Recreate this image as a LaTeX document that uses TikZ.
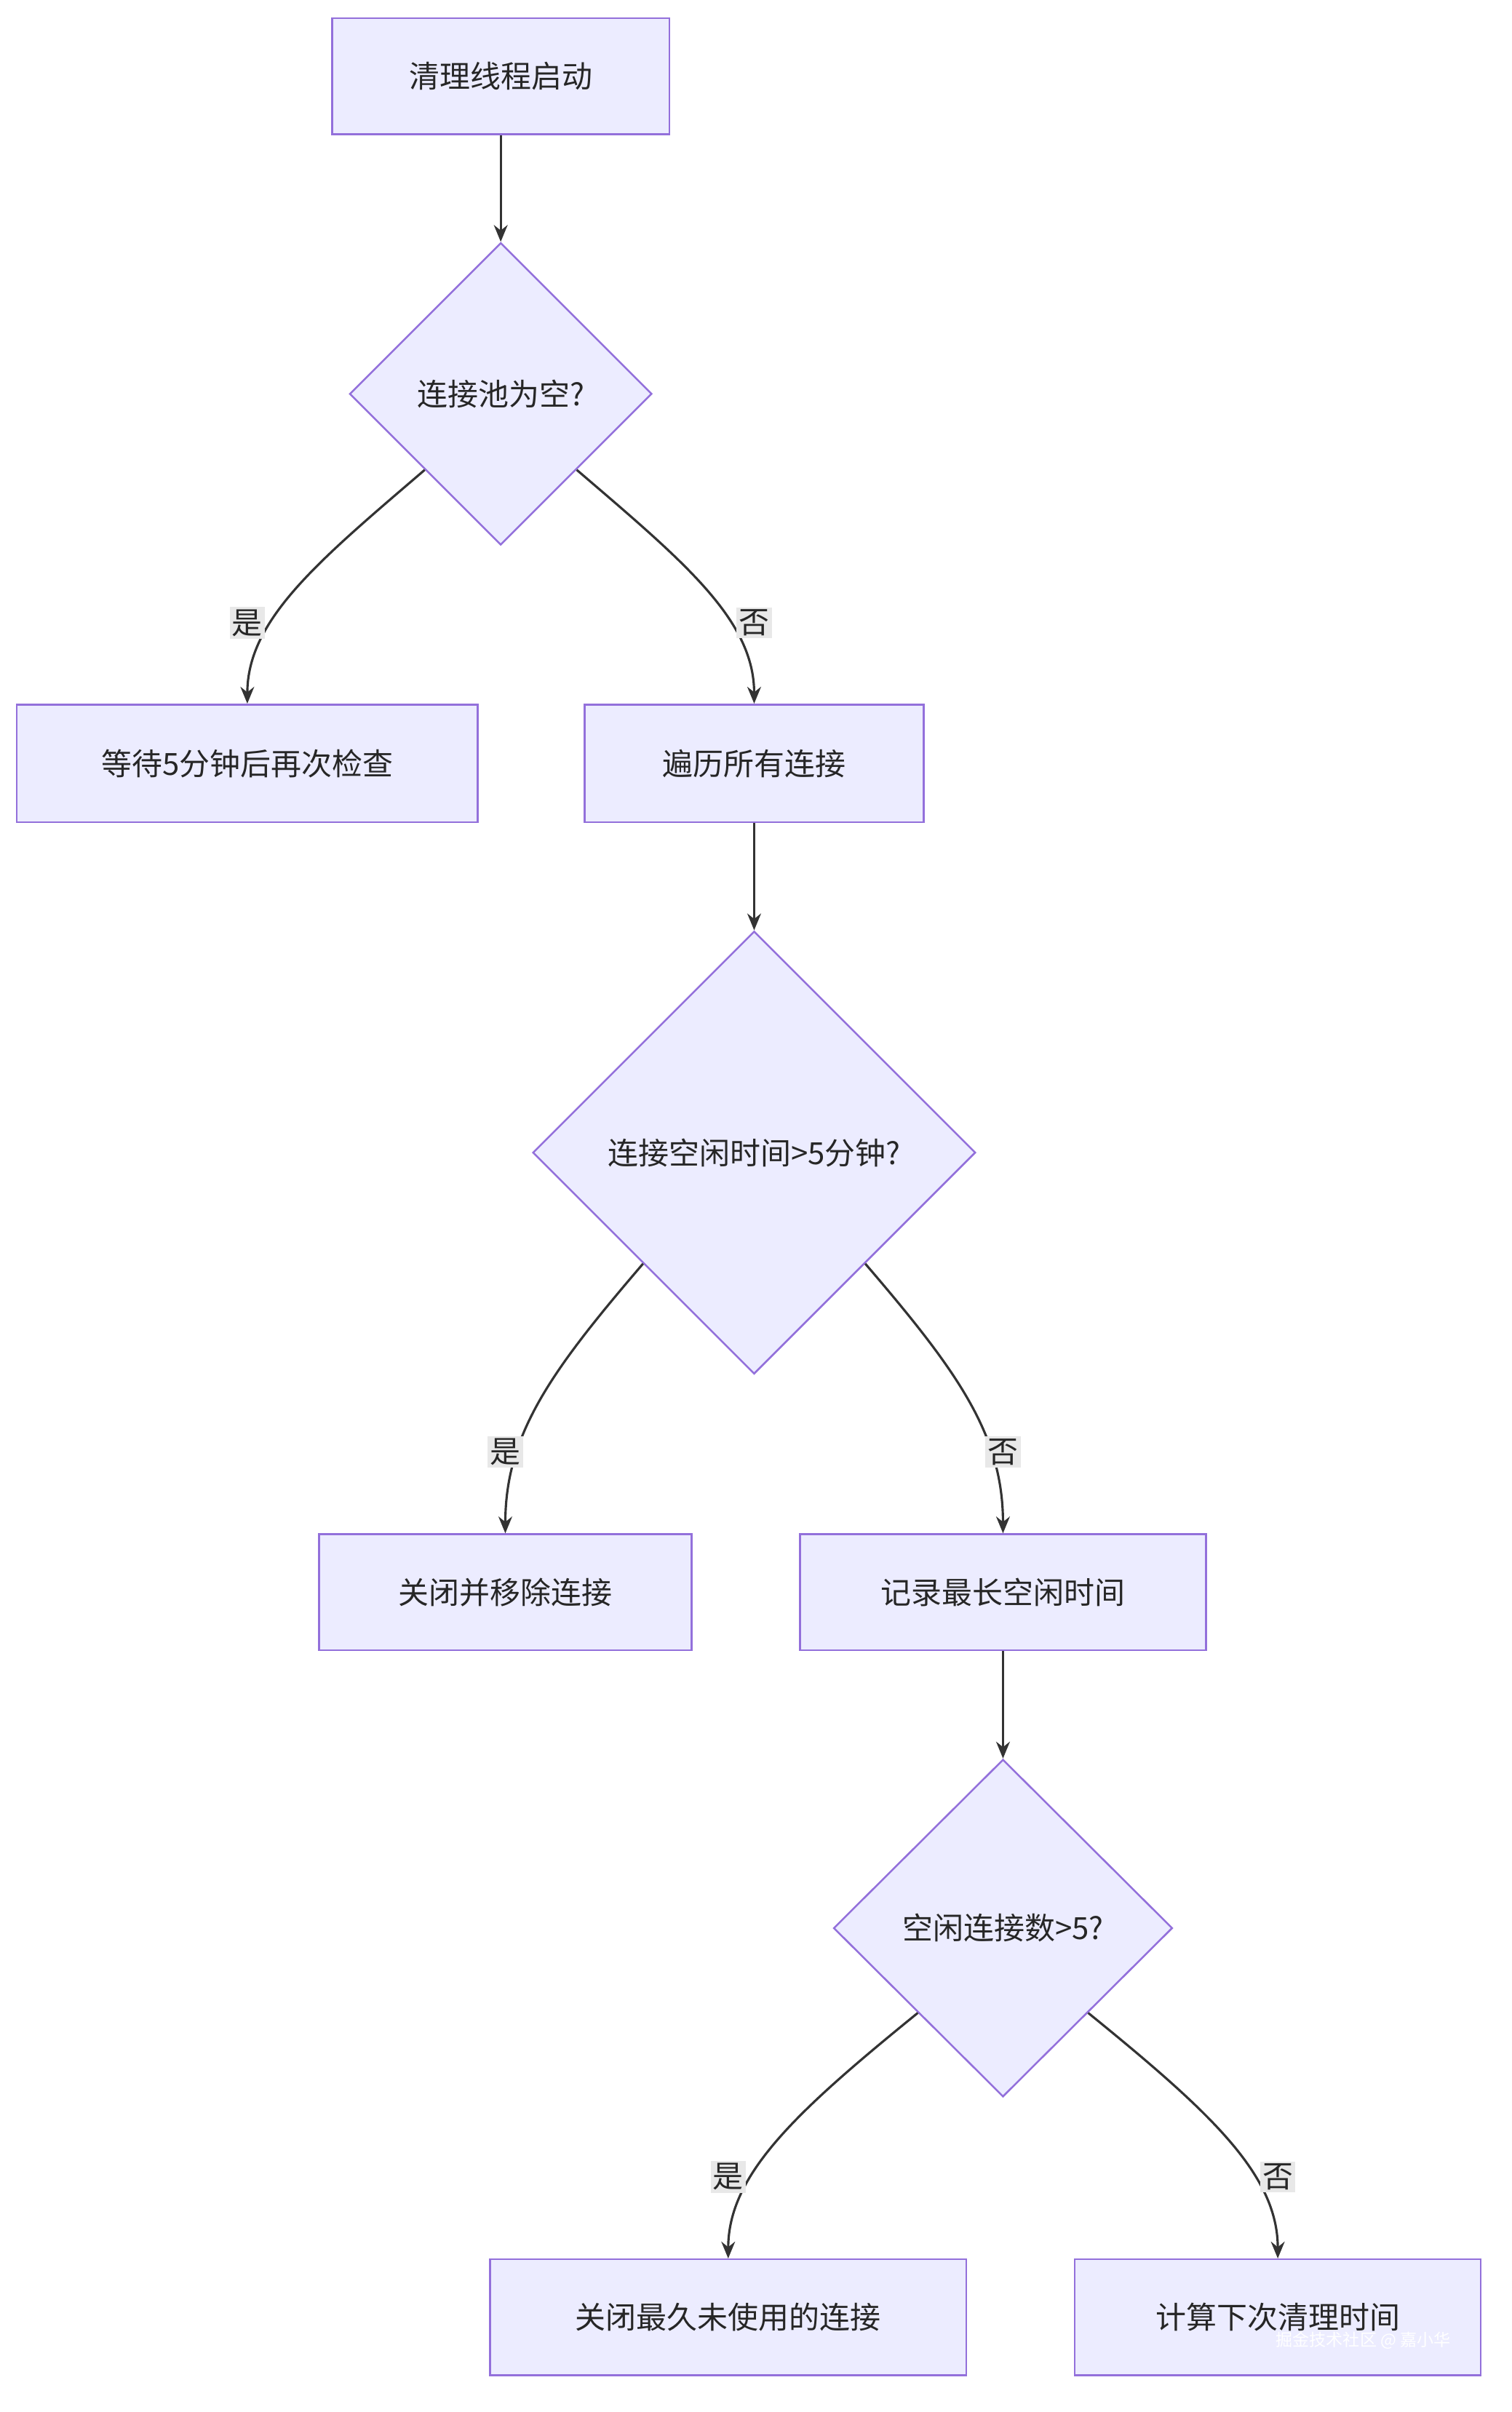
\documentclass[tikz,border=0pt]{standalone}
\usepackage{fontspec}
\setmainfont{Noto Sans CJK SC}
\usetikzlibrary{shapes.geometric,arrows.meta}
\definecolor{nfill}{HTML}{ECECFF}
\definecolor{nline}{HTML}{9370DB}
\definecolor{earr}{HTML}{333333}
\definecolor{lbg}{HTML}{E8E8E8}
\begin{document}
\begin{tikzpicture}[x=1pt,y=-1pt,
  box/.style={draw=nline,fill=nfill,line width=1.2pt,font=\fontsize{20}{24}\selectfont,text=black!85},
  dia/.style={diamond,draw=nline,fill=nfill,line width=1.2pt,inner sep=0pt,font=\fontsize{20}{24}\selectfont,text=black!85},
  arr/.style={draw=earr,line width=1.5pt,-{Stealth[length=11pt,width=9pt]}},
  lab/.style={fill=lbg,inner sep=1.5pt,font=\fontsize{20}{24}\selectfont,text=black!85}]
\useasboundingbox[fill=white] (0,0) rectangle (990,1580);
\node[box,minimum width=221pt,minimum height=76pt] (start) at (328,50) {清理线程启动};
\node[dia,minimum width=198pt,minimum height=198pt] (d1) at (328,258) {连接池为空?};
\node[box,minimum width=302pt,minimum height=77pt] (wait) at (162,500) {等待5分钟后再次检查};
\node[box,minimum width=222pt,minimum height=77pt] (iter) at (494,500) {遍历所有连接};
\node[dia,minimum width=290pt,minimum height=290pt] (d2) at (494,755) {连接空闲时间>5分钟?};
\node[box,minimum width=244pt,minimum height=76pt] (close) at (331,1043) {关闭并移除连接};
\node[box,minimum width=266pt,minimum height=76pt] (record) at (657,1043) {记录最长空闲时间};
\node[dia,minimum width=222pt,minimum height=221pt] (d3) at (657,1263) {空闲连接数>5?};
\node[box,minimum width=312pt,minimum height=76pt] (old) at (477,1518) {关闭最久未使用的连接};
\node[box,minimum width=266pt,minimum height=76pt] (calc) at (837,1518) {计算下次清理时间};
\node[text=white,font=\fontsize{11}{13}\selectfont] (wm) at (893,1533) {掘金技术社区 @ 嘉小华};

\draw[arr] (start) -- (d1);
\draw[arr] (d1.south west) .. controls +(-70,60) and +(0,-55) .. (wait.north);
\draw[arr] (d1.south east) .. controls +(70,60) and +(0,-55) .. (iter.north);
\draw[arr] (iter) -- (d2);
\draw[arr] (d2.south west) .. controls +(-60,70) and +(0,-65) .. (close.north);
\draw[arr] (d2.south east) .. controls +(60,70) and +(0,-65) .. (record.north);
\draw[arr] (record) -- (d3);
\draw[arr] (d3.south west) .. controls +(-80,65) and +(0,-55) .. (old.north);
\draw[arr] (d3.south east) .. controls +(80,65) and +(0,-55) .. (calc.north);
\node[lab] (l1) at (162,408) {是};
\node[lab] (l2) at (494,408) {否};
\node[lab] (l3) at (331,951) {是};
\node[lab] (l4) at (657,951) {否};
\node[lab] (l5) at (477,1426) {是};
\node[lab] (l6) at (837,1426) {否};
\end{tikzpicture}
\end{document}
